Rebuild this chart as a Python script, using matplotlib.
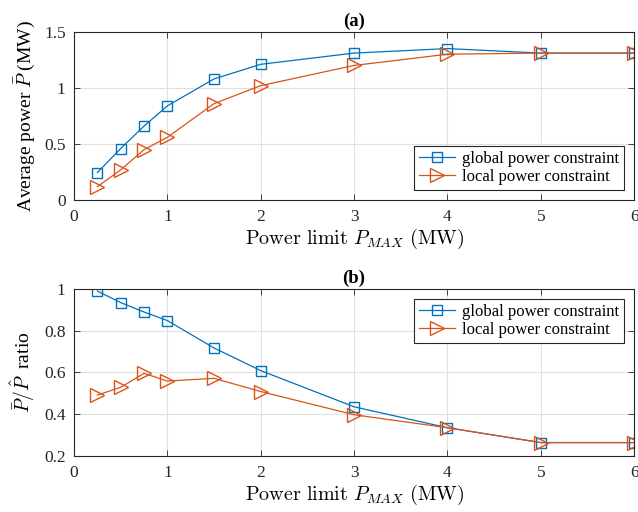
import matplotlib
matplotlib.use("Agg")
import matplotlib.pyplot as plt

x_vals = [0.25, 0.5, 0.75, 1, 1.5, 2, 3, 4, 5, 6]
avg_global = [0.246, 0.46, 0.66, 0.84, 1.08, 1.21, 1.31, 1.35, 1.31, 1.31]
avg_local = [0.12, 0.27, 0.45, 0.56, 0.86, 1.02, 1.20, 1.30, 1.31, 1.31]
ratio_global = [0.989, 0.934, 0.889, 0.848, 0.717, 0.609, 0.436, 0.336, 0.265, 0.265]
ratio_local = [0.492, 0.529, 0.596, 0.559, 0.572, 0.509, 0.398, 0.336, 0.265, 0.265]
legend_labels = ["global power constraint", "local power constraint"]

plt.rcParams['font.family'] = ['Liberation Serif', 'DejaVu Serif']
plt.rcParams['mathtext.fontset'] = 'cm'

C_BLUE = '#0072BD'
C_ORANGE = '#D95319'

fig = plt.figure(figsize=(6.38, 5.12), dpi=100)
ax1 = fig.add_axes([0.116, 0.609, 0.878, 0.329])
ax2 = fig.add_axes([0.116, 0.109, 0.878, 0.327])

def style(ax):
    ax.set_xlim(0, 6)
    ax.set_xticks(range(0, 7))
    ax.grid(True, color='#e0e0e0', linewidth=0.8)
    ax.set_axisbelow(True)
    ax.tick_params(direction='in', top=True, right=True, labelsize=12.5,
                   length=4, width=0.6, colors='#262626', pad=6)
    for s in ax.spines.values():
        s.set_color('#262626')
        s.set_linewidth(0.8)

for ax, g, l in [(ax1, avg_global, avg_local), (ax2, ratio_global, ratio_local)]:
    ax.plot(x_vals, g, color=C_BLUE, lw=0.9, marker='s', ms=7.5, mfc='none',
            mew=1.0, label=legend_labels[0])
    ax.plot(x_vals, l, color=C_ORANGE, lw=0.9, marker='>', ms=9.5, mfc='none',
            mew=1.0, label=legend_labels[1])
    style(ax)

ax1.set_ylim(0, 1.5)
ax1.set_yticks([0, 0.5, 1, 1.5])
ax1.set_yticklabels(['0', '0.5', '1', '1.5'])
ax2.set_ylim(0.2, 1.0)
ax2.set_yticks([0.2, 0.4, 0.6, 0.8, 1.0])
ax2.set_yticklabels(['0.2', '0.4', '0.6', '0.8', '1'])

xlab = r'$\mathrm{Power\ limit\ }P_{MAX}\ \mathrm{(MW)}$'
ax1.set_xlabel(xlab, fontsize=14.5, labelpad=2)
ax2.set_xlabel(xlab, fontsize=14.5, labelpad=2)
ax1.set_ylabel(r'Average power $\bar{P}$ (MW)', fontsize=14, labelpad=5)
ax2.set_ylabel(r'$\bar{P}/\hat{P}$  ratio', fontsize=14, labelpad=5)
ax1.set_title('(a)', fontsize=13.5, fontweight='bold', pad=4)
ax2.set_title('(b)', fontsize=13.5, fontweight='bold', pad=4)

leg_kw = dict(fontsize=12, fancybox=False, edgecolor='#262626',
              framealpha=1, handlelength=2.2, borderpad=0.3,
              labelspacing=0.15, handletextpad=0.4, borderaxespad=0.6)
l1 = ax1.legend(loc='lower right', **leg_kw)
l2 = ax2.legend(loc='upper right', **leg_kw)
for l in (l1, l2):
    l.get_frame().set_linewidth(0.8)

fig.savefig('out.png', dpi=100)
